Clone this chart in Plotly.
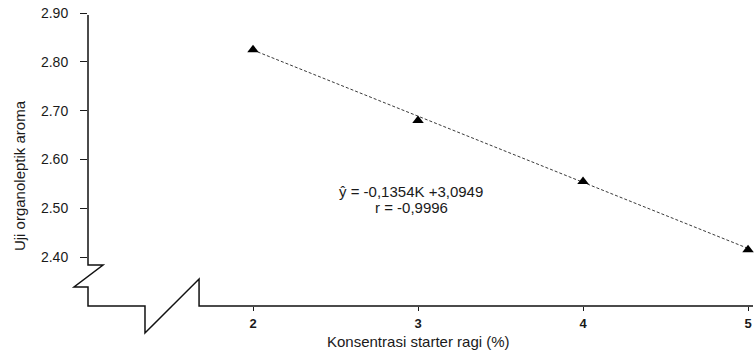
import plotly.graph_objects as go

# Konsentrasi starter ragi (%) vs. skor uji organoleptik aroma
konsentrasi = [2, 3, 4, 5]
skor_aroma = [2.825, 2.68, 2.555, 2.415]

# Persamaan regresi linier
slope = -0.1354
intercept = 3.0949
r_value = -0.9996

x_ticks = [2, 3, 4, 5]
y_ticks = [2.40, 2.50, 2.60, 2.70, 2.80, 2.90]

FONT = "Liberation Sans, Arial, sans-serif"

x_fit = [konsentrasi[0], konsentrasi[-1]]
y_fit = [slope * v + intercept for v in x_fit]

fig = go.Figure()

fig.add_trace(go.Scatter(
    x=x_fit, y=y_fit, mode="lines",
    line=dict(color="#3a3a3a", width=1, dash="3px,2px"),
    hoverinfo="skip", showlegend=False,
))
fig.add_trace(go.Scatter(
    x=konsentrasi, y=skor_aroma, mode="markers",
    marker=dict(symbol="triangle-up", size=10, color="black"),
    cliponaxis=False, showlegend=False,
))

# Sumbu dengan tanda patah (axis break) di pojok kiri bawah
axis_path = (
    "M 0,0.993 L 0,0.14 L 0.0226,0.14 L -0.021,0.065 L 0,0.065 L 0,0 "
    "L 0.0857,0 L 0.0857,-0.092 L 0.167,0.092 L 0.167,0 L 1,0"
)

fig.update_layout(
    width=754, height=360,
    margin=dict(l=88, r=1, t=13, b=54),
    paper_bgcolor="white", plot_bgcolor="white",
    font=dict(family=FONT, size=14, color="#1a1a1a"),
    showlegend=False,
    xaxis=dict(
        range=[1.0, 5.03], tickvals=x_ticks, ticktext=[f"<b>{v}</b>" for v in x_ticks],
        showgrid=False, zeroline=False, showline=False,
        ticks="outside", ticklen=4, tickwidth=1, tickcolor="#1a1a1a",
        ticklabelstandoff=1, tickfont=dict(size=13),
    ),
    yaxis=dict(
        range=[2.30, 2.90], tickvals=y_ticks, ticktext=[f"{v:.2f}" for v in y_ticks],
        showgrid=False, zeroline=False, showline=False,
        ticks="outside", ticklen=7, tickwidth=1, tickcolor="#1a1a1a",
        ticklabelstandoff=9,
    ),
    shapes=[dict(
        type="path", xref="paper", yref="paper", path=axis_path,
        line=dict(color="#111111", width=1.5),
    )],
    annotations=[
        dict(text="Konsentrasi starter ragi (%)", xref="x", yref="paper",
             x=3, y=-0.122, showarrow=False, xanchor="center", yanchor="middle",
             font=dict(size=15)),
        dict(text="Uji organoleptik aroma", xref="paper", yref="paper",
             x=-0.102, y=0.444, textangle=-90, showarrow=False,
             xanchor="center", yanchor="middle", font=dict(size=15)),
        dict(text=f"ŷ = {slope:.4f}K +{intercept:.4f}".replace(".", ","),
             xref="x", yref="y", x=2.958, y=2.5355, showarrow=False,
             xanchor="center", yanchor="middle", font=dict(size=15)),
        dict(text=f"r = {r_value:.4f}".replace(".", ","),
             xref="x", yref="y", x=2.958, y=2.5007, showarrow=False,
             xanchor="center", yanchor="middle", font=dict(size=15)),
    ],
)

fig.write_html("out.html")
